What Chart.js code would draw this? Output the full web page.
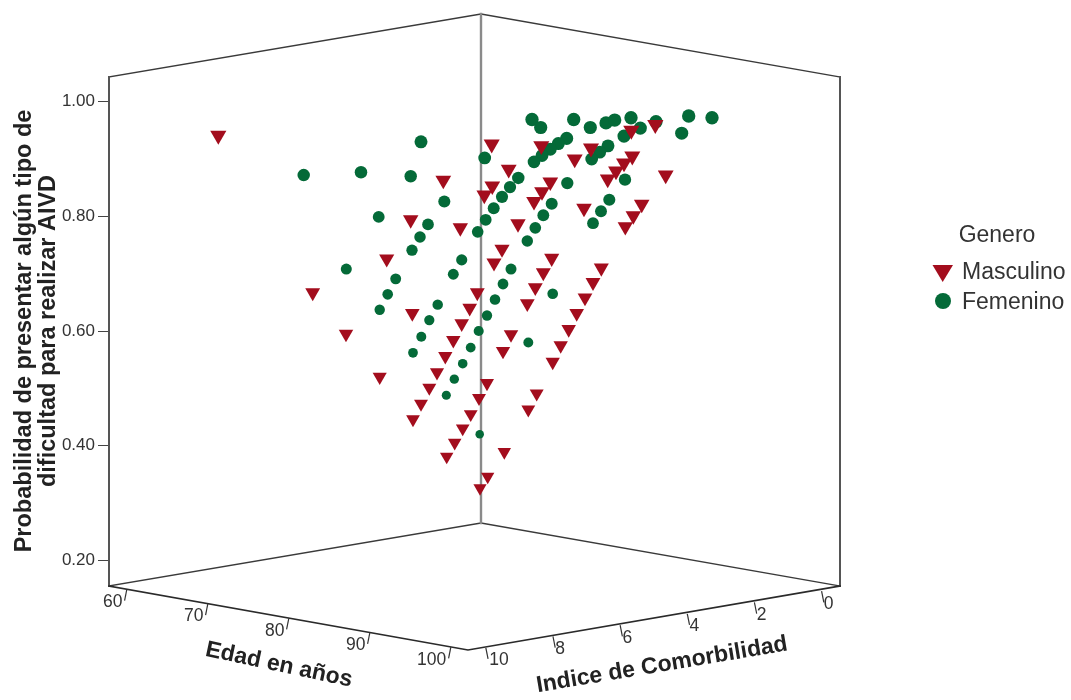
<!DOCTYPE html>
<html>
<head>
<meta charset="utf-8">
<title>Probabilidad AIVD</title>
<script src="https://cdn.jsdelivr.net/npm/chart.js@4/dist/chart.umd.js"></script>
<style>
  html, body { margin: 0; padding: 0; background: #fff; }
  canvas { display: block; }
</style>
</head>
<body>
<canvas id="myChart" width="1071" height="700"></canvas>
<script>
const masculinoX = [109.3,334.3,301.7,351.3,277.7,203.7,303.3,237,270.7,360.7,352.7,344.3,336.3,328,320.3,312,304,361.7,353.7,345.7,337.7,368.3,370,378.7,371,393,385,442.7,434.3,426.3,418.3,492.3,484,476,467.7,459.7,451.7,443.7,402,394,378,427.7,419.3,395.3,382.7,432.3,482,465.7,522.3,546.3,523.3,515,507,498.7,556.7,399.7,383.3,375.3,441.3,433,425,475,409,532.7,524.3,516.3];
const masculinoProb = [.941,.863,.794,.780,.726,.667,.631,.595,.520,.640,.613,.584,.556,.528,.501,.473,.446,.455,.430,.405,.381,.667,.483,.346,.326,.743,.719,.727,.702,.676,.648,.710,.685,.658,.631,.603,.575,.546,.594,.565,.509,.491,.463,.389,.926,.923,.919,.900,.950,.960,.905,.893,.879,.865,.872,.882,.853,.837,.860,.843,.826,.814,.787,.821,.801,.782];
const femeninoX = [312,194.7,252,301.7,335.3,269.7,319,311,303,352.7,237.3,344.3,286.7,278.7,270.7,328.7,320.3,312.3,304,361.7,353.7,345.3,337.3,378,418.3,402,394,386,369.7,443.7,419.3,370.7,423,431.7,464.7,481.3,497,505.7,522,531.3,547,579.7,603,572.7,515,499,490.7,482.7,457.7,449.3,441.3,433,425,375.7,409.3,401,393,384.7,376.7,368.7,458.3,516,442.7,434.3,426.3,500.3,492,484];
const femeninoProb = [.930,.872,.877,.870,.826,.799,.786,.764,.741,.724,.708,.699,.691,.664,.637,.646,.619,.590,.562,.571,.543,.516,.488,.627,.757,.708,.682,.655,.600,.665,.580,.420,.969,.955,.969,.955,.963,.968,.972,.954,.965,.975,.972,.945,.940,.923,.912,.900,.936,.927,.917,.906,.895,.902,.867,.851,.834,.814,.794,.773,.858,.864,.822,.802,.780,.829,.809,.788];

const probTicks = [0.2, 0.4, 0.6, 0.8, 1.0];
const edadTicks = ['60', '70', '80', '90', '100'];
const comorbilidadTicks = ['0', '2', '4', '6', '8', '10'];
const generos = ['Masculino', 'Femenino'];

const ROJO = '#a30d1d';
const VERDE = '#046a38';
const FUENTE = '"Liberation Sans", Arial, sans-serif';

const toPoints = (xs, ys) => xs.map((x, i) => ({ x: x, y: ys[i] }));

// Los puntos cercanos (arriba) se ven algo mas grandes por la perspectiva
const radioTriangulo = ctx => 6.7 + 2.8 * ctx.raw.y;
const radioCirculo = ctx => 2.4 + 4.4 * ctx.raw.y;

function linea(ctx, pts, color, ancho) {
    ctx.strokeStyle = color;
    ctx.lineWidth = ancho;
    ctx.beginPath();
    pts.forEach((p, i) => i ? ctx.lineTo(p[0], p[1]) : ctx.moveTo(p[0], p[1]));
    ctx.stroke();
}

function texto(ctx, txt, x, y, font, color, angulo) {
    ctx.save();
    ctx.translate(x, y);
    ctx.rotate((angulo || 0) * Math.PI / 180);
    ctx.font = font;
    ctx.fillStyle = color;
    ctx.textAlign = 'center';
    ctx.textBaseline = 'middle';
    ctx.fillText(txt, 0, 0);
    ctx.restore();
}

// Caja 3D, ejes del suelo y leyenda
const caja3d = {
    id: 'caja3d',
    beforeDatasetsDraw(chart) {
        const c = chart.ctx;
        c.save();
        c.lineCap = 'square';
        linea(c, [[109, 586], [481, 523], [840, 586]], '#3a3a3a', 1.3);
        linea(c, [[109, 77], [481, 14], [840, 77]], '#3a3a3a', 1.5);
        linea(c, [[481, 14], [481, 523]], '#8a8a8a', 2.4);
        linea(c, [[109, 77], [109, 586]], '#555', 2);
        linea(c, [[840, 77], [840, 586]], '#555', 2);
        linea(c, [[109, 586], [468, 650], [840, 586]], '#2a2a2a', 1.6);

        const TICK = '17.5px ' + FUENTE;
        edadTicks.forEach((t, i) => {
            const x = 126.7 + i * 81, y = 590 + i * 14.45;
            linea(c, [[x, y], [x - 2, y + 10]], '#333', 1.2);
            texto(c, t, x - (i === 4 ? 19 : 14), y + 12, TICK, '#333');
        });
        comorbilidadTicks.forEach((t, i) => {
            const x = 821.7 - i * 67.15, y = 591.7 + i * 11.33;
            linea(c, [[x, y], [x + 2, y + 10]], '#333', 1.2);
            texto(c, t, x + (i === 5 ? 13 : 7), y + 12, TICK, '#333');
        });
        texto(c, 'Edad en años', 279, 665, 'bold 23px ' + FUENTE, '#222', 12);
        texto(c, 'Indice de Comorbilidad', 662, 665, 'bold 23px ' + FUENTE, '#222', -9.5);
        c.restore();
    },
    afterDraw(chart) {
        const c = chart.ctx;
        c.save();
        texto(c, 'Genero', 997, 236, '23px ' + FUENTE, '#333');
        c.textAlign = 'left';
        c.textBaseline = 'middle';
        c.font = '23px ' + FUENTE;
        c.fillStyle = '#333';
        c.fillText(generos[0], 962, 273);
        c.fillText(generos[1], 962, 303);
        c.fillStyle = ROJO;
        c.beginPath();
        c.moveTo(932.5, 265);
        c.lineTo(953, 265);
        c.lineTo(942.7, 282);
        c.closePath();
        c.fill();
        c.fillStyle = VERDE;
        c.beginPath();
        c.arc(943, 301, 8, 0, Math.PI * 2);
        c.fill();
        c.restore();
    }
};

const ctx = document.getElementById('myChart').getContext('2d');
new Chart(ctx, {
    type: 'scatter',
    plugins: [caja3d],
    data: {
        datasets: [{
            label: generos[0],
            data: toPoints(masculinoX, masculinoProb),
            pointStyle: 'triangle',
            rotation: 180,
            pointRadius: radioTriangulo,
            backgroundColor: ROJO,
            borderColor: ROJO,
            borderWidth: 0
        }, {
            label: generos[1],
            data: toPoints(femeninoX, femeninoProb),
            pointStyle: 'circle',
            pointRadius: radioCirculo,
            backgroundColor: VERDE,
            borderColor: VERDE,
            borderWidth: 0
        }]
    },
    options: {
        responsive: false,
        animation: false,
        layout: { padding: { top: 101.7, bottom: 139.7, left: 0, right: 231 } },
        plugins: { legend: { display: false }, tooltip: { enabled: false } },
        scales: {
            x: { type: 'linear', min: 0, max: 731, display: false },
            y: {
                type: 'linear',
                min: 0.2,
                max: 1,
                afterFit: s => { s.width = 109; },
                afterBuildTicks: s => { s.ticks = probTicks.map(v => ({ value: v })); },
                border: { display: false },
                grid: { drawOnChartArea: false, drawTicks: true, tickLength: 11, color: '#444' },
                ticks: {
                    padding: 3,
                    color: '#333',
                    font: { family: FUENTE, size: 17 },
                    callback: v => v.toFixed(2)
                },
                title: {
                    display: true,
                    text: ['Probabilidad de presentar algún tipo de', 'dificultad para realizar AIVD'],
                    color: '#222',
                    font: { family: FUENTE, size: 23.5, weight: 'bold', lineHeight: 1.03 },
                    padding: { top: 12, bottom: 0 }
                }
            }
        }
    }
});
</script>
</body>
</html>
